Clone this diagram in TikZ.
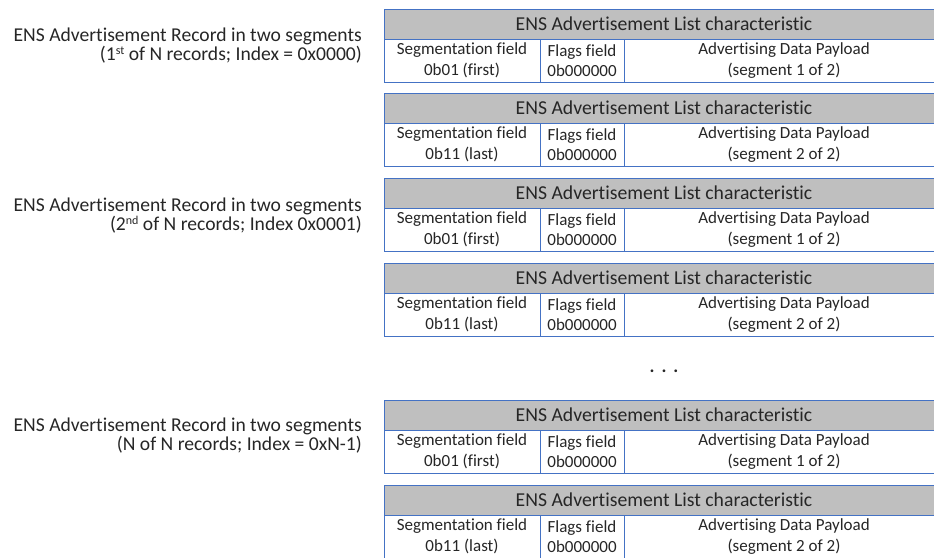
\documentclass[tikz,border=0pt]{standalone}
\usepackage{fontspec}
\setmainfont{Carlito}[Ligatures=NoCommon]
\usetikzlibrary{positioning}
\definecolor{cellblue}{HTML}{4472C4}
\definecolor{hdrgray}{HTML}{BFBFBF}
\definecolor{inkgray}{HTML}{262626}
\newcommand\ordsup[1]{\raisebox{0.3em}{\fontsize{12}{12}\selectfont #1}}
\tikzset{
  hdrbox/.style={draw=cellblue, fill=hdrgray, line width=1pt, outer sep=0pt, inner sep=0pt,
    minimum width=560pt, minimum height=30pt, anchor=north west, text=inkgray,
    font=\fontsize{19.7}{19}\selectfont},
  cellbox/.style={draw=cellblue, fill=white, line width=1pt, outer sep=0pt, inner sep=0pt,
    minimum height=43pt, anchor=north west, align=center, text=inkgray,
    font=\fontsize{17}{20.5}\selectfont},
  reclabel/.style={align=right, anchor=east, inner sep=0pt, text=inkgray,
    font=\fontsize{19.6}{19}\selectfont}
}
\begin{document}
\begin{tikzpicture}[x=1pt,y=-1pt]
\useasboundingbox (0,0) rectangle (934,557);
\clip (0,0) rectangle (934,557);
% one characteristic table per segment
\foreach \ytop/\segval/\segno [count=\i] in {9/0b01 (first)/1, 93/0b11 (last)/2,
    178/0b01 (first)/1, 263/0b11 (last)/2, 400/0b01 (first)/1, 485/0b11 (last)/2}{
  \node[hdrbox] (hdr\i) at (384,\ytop) {ENS Advertisement List characteristic};
  \node[cellbox, minimum width=156pt] (seg\i) at (hdr\i.south west) {Segmentation field\\\segval};
  \node[cellbox, minimum width=84pt] (flg\i) at (seg\i.north east) {Flags field\\0b000000};
  \node[cellbox, minimum width=320pt] (pay\i) at (flg\i.north east) {Advertising Data Payload\\(segment \segno{} of 2)};
}
% record labels
\node[reclabel] (rec1) at (362,45.5) {ENS Advertisement Record in two segments\\(1\ordsup{st} of N records; Index = 0x0000)};
\node[reclabel] (rec2) at (362,215.5) {ENS Advertisement Record in two segments\\(2\ordsup{nd} of N records; Index 0x0001)};
\node[reclabel] (rec3) at (362,435.5) {ENS Advertisement Record in two segments\\(N of N records; Index = 0xN-1)};
\node[text=inkgray, font=\fontsize{18.5}{18}\selectfont\bfseries] (gap) at (664,371) {.\hspace{7pt}.\hspace{7pt}.};
\end{tikzpicture}
\end{document}
